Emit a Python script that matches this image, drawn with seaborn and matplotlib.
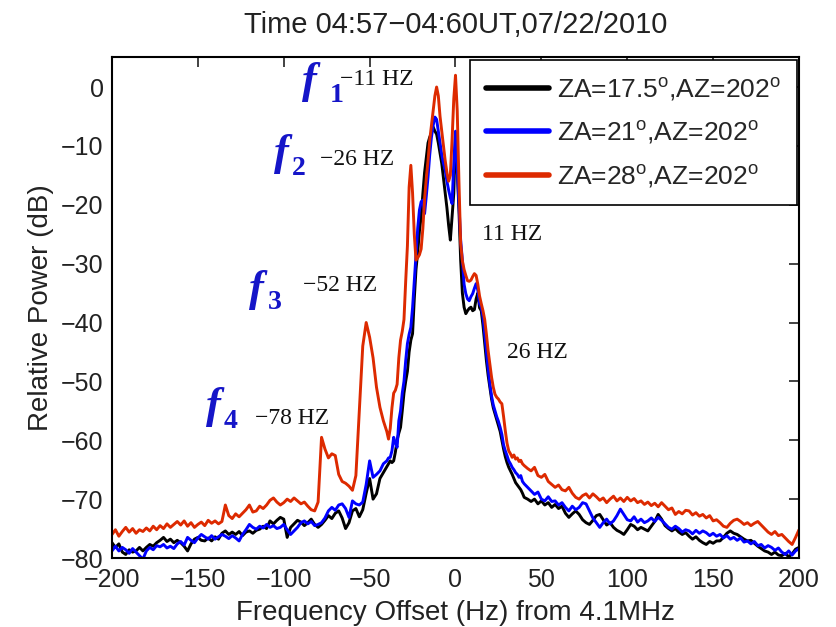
import numpy as np
import pandas as pd
import matplotlib
matplotlib.use("Agg")
import matplotlib.pyplot as plt
import seaborn as sns
from matplotlib.lines import Line2D

# ---------------- data ----------------
freq_left = list(range(-200, -41, 2))      # -200 .. -42
freq_mid = list(range(-40, 41, 1))         # -40 .. 40
freq_right = list(range(42, 201, 2))       # 42 .. 200
freq = freq_left + freq_mid + freq_right

red_left = [
    -76.0, -75.2, -76.3, -75.5, -74.8, -75.6, -75.0, -75.8, -75.2, -75.5,
    -74.9, -75.4, -74.6, -75.2, -74.5, -75.0, -74.2, -74.8, -74.3, -73.8,
    -74.4, -73.7, -74.6, -74.0, -74.8, -74.3, -73.9, -74.5, -73.6, -74.1,
    -73.7, -74.2, -73.8, -71.0, -72.8, -73.3, -72.5, -73.0, -72.4, -71.8,
    -71.0, -72.2, -72.0, -71.2, -71.6, -71.0, -70.2, -69.8, -70.5, -71.0,
    -70.6, -70.0, -70.4, -69.8, -70.3, -70.8, -70.5, -71.2, -71.8, -72.0,
    -70.5, -59.5, -61.5, -63.0, -62.3, -62.6, -65.8, -67.0, -67.3, -67.8,
    -68.5, -66.0, -55.0, -44.0, -40.0, -42.5, -46.0, -51.0, -54.4, -56.7,
]
red_mid = [
    -58.5, -59.8, -58.0, -54.5, -52.0, -51.5, -50.5, -46.0, -43.0, -41.5,
    -39.5, -33.0, -27.0, -17.0, -13.3, -18.0, -25.0, -29.4, -29.0, -28.5,
    -27.5, -24.0, -19.0, -15.5, -12.5, -9.0, -6.5, -3.9, -1.5, 0.0,
    -1.5, -5.0, -7.5, -10.0, -12.5, -14.5, -16.0, -15.0, -9.0, -2.0,
    2.0, -4.0, -16.0, -26.6, -29.5, -31.0, -32.0, -32.9, -33.0, -32.8,
    -32.2, -31.7, -32.0, -33.5, -35.5, -36.8, -38.0, -39.5, -42.0, -44.8,
    -47.0, -49.3, -51.0, -52.2, -52.7, -53.0, -53.5, -53.8, -56.0, -58.4,
    -60.5, -61.8, -62.3, -62.9, -62.5, -63.2, -63.0, -63.6, -63.4, -64.0,
    -64.3,
]
red_right = [
    -64.8, -65.2, -64.6, -66.0, -66.3, -65.8, -67.0, -67.5, -68.0, -67.6,
    -68.4, -68.6, -68.0, -69.0, -69.7, -70.0, -69.4, -69.1, -69.8, -69.1,
    -69.6, -70.2, -69.8, -70.6, -70.0, -69.5, -70.3, -69.8, -70.4, -69.7,
    -70.3, -69.9, -70.6, -70.3, -70.9, -70.5, -71.1, -70.7, -71.3, -70.6,
    -71.2, -71.8, -71.5, -72.6, -72.1, -72.5, -71.9, -72.0, -72.7, -72.3,
    -72.9, -72.6, -73.2, -72.8, -73.7, -73.5, -74.0, -74.6, -74.8, -74.1,
    -73.6, -73.4, -73.8, -74.3, -74.0, -74.5, -74.1, -73.8, -74.4, -75.0,
    -75.6, -76.0, -75.5, -76.2, -76.0, -76.6, -77.2, -77.7, -76.5, -75.2,
]

blue_left = [
    -78.8, -78.0, -78.8, -78.2, -78.6, -79.2, -78.4, -79.0, -79.6, -80.2,
    -78.8, -78.2, -78.6, -77.9, -78.1, -77.7, -78.3, -78.0, -78.4, -77.6,
    -77.2, -77.8, -76.5, -77.0, -77.4, -76.6, -76.0, -76.4, -76.8, -76.2,
    -76.8, -76.4, -76.0, -76.3, -76.7, -76.2, -76.6, -77.1, -76.0, -75.2,
    -74.3, -74.8, -75.1, -74.6, -74.9, -74.3, -74.8, -74.5, -75.0, -74.8,
    -74.3, -75.2, -76.0, -75.4, -74.8, -74.0, -73.7, -74.2, -73.8, -74.5,
    -74.3, -74.0, -73.2, -72.0, -71.4, -71.9, -71.0, -70.8, -71.6, -73.1,
    -70.3, -70.8, -71.0, -70.5, -67.5, -63.5, -66.3, -65.8, -65.2, -64.0,
]
blue_mid = [
    -63.5, -63.0, -62.9, -61.8, -59.5, -60.5, -61.2, -56.7, -55.0, -52.0,
    -50.0, -46.5, -43.6, -42.0, -40.8, -37.5, -33.0, -28.3, -24.0, -20.9,
    -19.5, -19.2, -21.5, -18.5, -15.3, -11.5, -8.5, -6.5, -5.1, -5.5,
    -7.5, -9.5, -11.5, -13.0, -14.1, -16.0, -17.5, -18.8, -19.8, -13.0,
    -7.5, -14.0, -19.8, -26.0, -29.4, -33.5, -35.1, -36.0, -36.3, -35.6,
    -35.1, -34.2, -33.4, -34.5, -36.8, -37.4, -39.0, -41.9, -45.0, -47.8,
    -50.4, -52.5, -54.0, -55.0, -56.0, -56.8, -57.8, -59.0, -60.8, -61.8,
    -62.6, -63.5, -64.0, -64.6, -65.0, -65.5, -65.8, -66.3, -66.0, -67.0,
    -67.4,
]
blue_right = [
    -68.0, -68.6, -69.2, -68.8, -70.0, -70.3, -69.6, -70.4, -70.3, -71.0,
    -70.6, -71.4, -72.0, -71.2, -71.8, -71.4, -70.6, -70.8, -72.0, -73.2,
    -74.0, -74.8, -74.0, -73.4, -74.2, -73.7, -72.8, -71.7, -72.6, -73.5,
    -73.7, -73.0, -73.9, -73.4, -74.0, -73.7, -73.2, -73.8, -73.1, -73.6,
    -74.2, -74.8, -75.1, -74.6, -75.0, -75.6, -75.2, -75.4, -75.9, -75.3,
    -75.8, -75.4, -75.7, -76.2, -75.8, -76.3, -76.0, -76.6, -76.2, -76.8,
    -76.5, -77.0, -76.6, -77.3, -77.1, -77.6, -77.2, -77.9, -77.7, -78.3,
    -77.9, -78.2, -78.7, -78.3, -79.0, -79.4, -78.8, -79.5, -78.8, -78.4,
]

black_left = [
    -77.4, -78.2, -77.6, -79.0, -79.4, -78.6, -79.0, -78.8, -78.2, -78.8,
    -78.2, -77.7, -78.0, -77.4, -77.0, -76.5, -77.2, -76.8, -77.4, -77.0,
    -77.4, -78.0, -78.8, -77.6, -76.8, -76.5, -77.0, -77.1, -76.6, -77.1,
    -76.4, -76.8, -75.8, -75.4, -76.0, -75.6, -76.0, -75.5, -76.2, -75.6,
    -75.4, -75.8, -75.3, -75.1, -74.6, -75.0, -73.7, -74.2, -73.6, -73.1,
    -73.4, -76.5, -74.8, -74.2, -73.6, -73.9, -74.5, -74.0, -73.4, -74.3,
    -74.8, -74.3, -73.6, -72.8, -73.3, -72.4, -72.0, -73.2, -75.0, -74.0,
    -72.0, -71.6, -73.0, -71.8, -69.0, -66.5, -70.0, -69.1, -66.5, -65.5,
]
black_mid = [
    -64.5, -64.0, -63.5, -63.8, -63.5, -62.0, -60.0, -58.8, -57.8, -55.0,
    -52.0, -50.0, -48.3, -45.0, -43.0, -41.9, -36.0, -31.0, -28.0, -24.5,
    -22.0, -18.1, -14.5, -12.0, -9.5, -8.5, -7.8, -6.8, -7.5, -8.0,
    -9.5, -11.3, -13.0, -15.5, -18.1, -20.5, -23.5, -26.0, -22.0, -18.1,
    -8.0, -14.0, -20.9, -29.4, -35.0, -37.4, -38.5, -38.0, -37.6, -37.4,
    -38.0, -37.8, -36.0, -35.0, -37.5, -38.0, -40.5, -43.5, -46.5, -49.0,
    -51.0, -53.0, -54.5, -55.5, -56.5, -57.5, -58.5, -60.0, -61.5, -62.8,
    -63.8, -64.6, -65.2, -65.8, -66.5, -67.2, -67.6, -68.0, -68.4, -69.0,
    -69.7,
]
black_right = [
    -70.0, -70.4, -70.0, -70.8, -70.3, -71.0, -70.6, -71.4, -70.9, -71.6,
    -71.2, -72.4, -73.1, -72.5, -72.0, -72.6, -73.5, -74.0, -74.3, -73.6,
    -72.8, -72.6, -73.5, -74.4, -74.0, -74.8, -75.3, -75.6, -76.0, -75.2,
    -74.3, -74.6, -75.2, -74.8, -75.1, -75.4, -74.6, -73.8, -72.6, -73.4,
    -74.5, -75.0, -75.4, -75.0, -75.6, -76.0, -75.7, -76.3, -76.8, -76.4,
    -77.0, -77.4, -77.7, -77.2, -77.5, -77.1, -77.1, -76.5, -75.8, -75.4,
    -75.8, -76.0, -76.4, -76.8, -77.1, -77.0, -77.5, -78.0, -78.4, -78.8,
    -79.0, -79.4, -79.0, -79.5, -79.6, -79.2, -79.8, -79.3, -78.5, -78.2,
]

series_labels = [
    r"ZA=17.5$^{\mathrm{o}}$,AZ=202$^{\mathrm{o}}$",
    r"ZA=21$^{\mathrm{o}}$,AZ=202$^{\mathrm{o}}$",
    r"ZA=28$^{\mathrm{o}}$,AZ=202$^{\mathrm{o}}$",
]
series_colors = ["#000000", "#0000ff", "#dd2a00"]

title_text = "Time 04:57\u221204:60UT,07/22/2010"
xlabel_text = "Frequency Offset (Hz) from 4.1MHz"
ylabel_text = "Relative Power (dB)"
x_ticks = [-200, -150, -100, -50, 0, 50, 100, 150, 200]
y_ticks = [-80, -70, -60, -50, -40, -30, -20, -10, 0]

# ---------------- build table ----------------
black_vals = black_left + black_mid + black_right
blue_vals = blue_left + blue_mid + blue_right
red_vals = red_left + red_mid + red_right
df = pd.DataFrame({
    "freq": freq * 3,
    "power": black_vals + blue_vals + red_vals,
    "series": [series_labels[0]] * len(freq) + [series_labels[1]] * len(freq)
              + [series_labels[2]] * len(freq),
})

# ---------------- style ----------------
sns.set_style("white")
plt.rcParams["font.family"] = ["Liberation Sans", "DejaVu Sans"]
plt.rcParams["mathtext.fontset"] = "custom"
plt.rcParams["mathtext.rm"] = "Liberation Sans"
plt.rcParams["mathtext.it"] = "Liberation Sans:italic"
plt.rcParams["mathtext.bf"] = "Liberation Sans:bold"

fig = plt.figure(figsize=(8.37, 6.27), dpi=100)
ax = fig.add_axes([112 / 837, 1 - 558 / 627, 687 / 837, 501 / 627])

sns.lineplot(data=df, x="freq", y="power", hue="series",
             hue_order=series_labels, palette=series_colors,
             linewidth=2.1, errorbar=None, sort=False, legend=False, ax=ax)

ax.set_xlim(-200, 200)
ax.set_ylim(-80, 5.1)
ax.set_xticks(x_ticks)
ax.set_yticks(y_ticks)
ax.tick_params(direction="in", length=7, width=1.2, top=True, right=True,
               labelsize=18, colors="#222222")
ax.tick_params(axis="x", pad=7)
ax.tick_params(axis="y", pad=6)
for s in ax.spines.values():
    s.set_visible(True)
    s.set_color("black")
    s.set_linewidth(1.5)

ax.set_title(title_text, fontsize=21, color="#222222", pad=17)
ax.set_xlabel(xlabel_text, fontsize=20, color="#222222")
ax.set_ylabel(ylabel_text, fontsize=20, color="#222222")
ax.xaxis.set_label_coords(0.5, -0.084)
ax.yaxis.set_label_coords(-0.085, 0.5)

handles = [Line2D([], [], color=c, lw=4) for c in series_colors]
leg = ax.legend(handles, series_labels, loc="upper right",
                bbox_to_anchor=(0.997, 0.994), borderaxespad=0,
                fontsize=19, frameon=True, fancybox=False, framealpha=1,
                edgecolor="black", handlelength=2.4, handletextpad=0.3,
                labelspacing=0.62, borderpad=0.6)
leg.get_frame().set_linewidth(1.2)

# ---------------- annotations ----------------
serif = ["Liberation Serif", "DejaVu Serif"]
f_labels = [("1", -89.5, -1.0, -73.3, -2.6, "\u221211 HZ", -67.3, 0.3),
            ("2", -105.5, -13.3, -95.2, -14.9, "\u221226 HZ", -78.9, -13.3),
            ("3", -120.5, -36.3, -109.2, -37.7, "\u221252 HZ", -88.8, -34.6),
            ("4", -145.5, -56.2, -134.8, -58.0, "\u221278 HZ", -116.7, -57.2)]
for sub, fx, fy, sx, sy, txt, tx, ty in f_labels:
    ax.text(fx, fy, "f", family=serif, style="italic", weight="bold",
            fontsize=32, color="#1515c8", va="baseline", ha="left")
    ax.text(sx, sy, sub, family=serif, weight="bold",
            fontsize=20, color="#1515c8", va="baseline", ha="left")
    ax.text(tx, ty, txt, family=serif, fontsize=17, color="#111111",
            va="baseline", ha="left")
ax.text(15.4, -26.0, "11 HZ", family=serif, fontsize=17, color="#111111",
        va="baseline", ha="left")
ax.text(30.0, -46.0, "26 HZ", family=serif, fontsize=17, color="#111111",
        va="baseline", ha="left")

fig.savefig("out.png", dpi=100)
